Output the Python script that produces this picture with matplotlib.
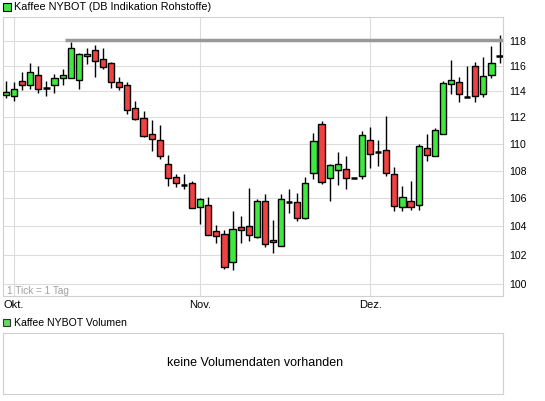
import matplotlib
matplotlib.use("Agg")
import matplotlib.pyplot as plt
from matplotlib.patches import Rectangle
from matplotlib.ticker import FixedLocator, FixedFormatter, NullLocator

plt.rcParams['font.family'] = ['Liberation Sans', 'DejaVu Sans']

# daily OHLC, Kaffee NYBOT
opens = [113.70, 113.67, 114.78, 114.47, 115.25, 114.26, 114.47, 115.06, 115.06, 114.86,
         116.75, 117.23, 116.51, 116.20, 114.70, 114.47, 112.70, 111.94, 110.73, 110.28,
         108.49, 107.54, 106.95, 107.10, 105.37, 105.52, 103.66, 103.45, 101.53, 103.94,
         104.03, 103.24, 105.80, 103.02, 102.64, 105.78, 105.73, 104.62, 107.83, 111.48,
         107.46, 108.10, 108.12, 107.46, 107.60, 110.28, 109.40, 109.53, 107.76, 105.37,
         105.80, 105.52, 109.68, 109.08, 110.73, 114.55, 114.70, 113.57, 115.96, 113.81,
         115.30, 116.75]
highs = [114.81, 114.73, 115.50, 116.22, 115.98, 114.81, 115.35, 115.75, 117.92, 116.99,
         117.42, 117.66, 117.42, 116.28, 115.12, 114.75, 113.24, 112.47, 111.79, 111.40,
         109.15, 107.76, 107.80, 107.26, 106.00, 106.10, 104.10, 103.73, 105.10, 104.74,
         106.73, 105.96, 106.32, 104.46, 106.29, 106.65, 106.37, 107.55, 110.82, 111.73,
         108.51, 109.37, 109.10, 107.46, 110.97, 111.25, 110.30, 112.11, 108.30, 106.90,
         107.26, 109.98, 110.72, 111.20, 114.80, 116.46, 115.16, 115.98, 116.28, 116.70,
         117.60, 118.46]
lows = [113.51, 113.23, 114.13, 114.21, 113.90, 113.62, 113.90, 114.52, 115.06, 114.19,
        116.17, 115.14, 115.77, 114.29, 114.11, 112.29, 111.80, 110.50, 109.50, 108.86,
        106.92, 106.85, 106.66, 105.29, 104.18, 103.38, 102.83, 101.02, 100.95, 102.83,
        102.99, 103.20, 102.55, 102.15, 102.64, 104.98, 104.41, 104.55, 107.40, 107.06,
        105.84, 106.99, 106.71, 107.46, 107.43, 108.25, 108.40, 107.60, 105.12, 105.12,
        105.19, 105.19, 108.77, 109.08, 110.73, 113.78, 113.16, 113.57, 113.16, 113.60,
        115.04, 116.25]
closes = [113.93, 114.16, 114.47, 115.48, 114.16, 114.26, 115.02, 115.25, 117.39, 116.91,
          116.94, 116.35, 115.88, 114.70, 114.32, 112.61, 111.86, 110.58, 110.35, 109.08,
          107.46, 107.10, 106.95, 105.29, 105.96, 103.38, 103.33, 101.18, 103.80, 103.73,
          103.38, 105.80, 102.78, 102.88, 105.94, 105.78, 104.58, 107.10, 110.20, 107.20,
          108.42, 108.49, 107.46, 107.46, 110.65, 109.23, 109.40, 107.84, 105.46, 106.10,
          105.40, 109.83, 109.16, 111.05, 114.63, 114.86, 113.78, 113.57, 113.66, 115.19,
          116.20, 116.75]

month_idx = [1, 24, 45]
month_labels = ["Okt.", "Nov.", "Dez."]
y_ticks = [100, 102, 104, 106, 108, 110, 112, 114, 116, 118]
resistance = 118.05
resistance_start = 7.25

GREEN = '#3ee83e'
RED = '#f04242'
GRID = '#dcdcdc'
FRAME = '#d0d0d0'
W, H = 545, 401

fig = plt.figure(figsize=(W / 100, H / 100), dpi=100)
fig.patch.set_facecolor('white')

# main price panel
ax = fig.add_axes([2.7 / W, 1 - 296 / H, 500.6 / W, 279.5 / H])
ax.set_yscale('log')
ax.set_xlim(-0.4, 61.46)
ax.set_ylim(99.20, 119.96)

n = len(opens)
xs = list(range(n))
ax.vlines(xs, lows, highs, color='black', lw=1.0, zorder=3)
for i in xs:
    o, c = opens[i], closes[i]
    if abs(c - o) < 1e-9:
        ax.hlines(o, i - 0.4, i + 0.4, color='black', lw=1.8, zorder=4)
        continue
    col = GREEN if c > o else RED
    ax.bar(i, abs(c - o), bottom=min(o, c), width=0.76, color=col,
           edgecolor='black', linewidth=1.0, zorder=4)

ax.hlines(resistance, resistance_start, 61.46, color='#999999', lw=2.5, zorder=5)

ax.yaxis.tick_right()
ax.yaxis.set_major_locator(FixedLocator(y_ticks))
ax.yaxis.set_major_formatter(FixedFormatter([str(t) for t in y_ticks]))
ax.yaxis.set_minor_locator(NullLocator())
ax.set_xticks(month_idx)
ax.set_xticklabels(month_labels)
ax.tick_params(axis='both', length=0, colors='black')
ax.tick_params(axis='x', pad=3, labelsize=8)
ax.tick_params(axis='y', pad=4, labelsize=7.6)
ax.grid(True, color=GRID, lw=0.8, zorder=0)
ax.set_axisbelow(True)
for s in ax.spines.values():
    s.set_color(FRAME)
    s.set_linewidth(0.8)

ax.text(4 / 500.6, (296 - 291) / 279.5, "1 Tick = 1 Tag", transform=ax.transAxes,
        fontsize=7.2, color='#a0a0a0', va='center', ha='left')

# volume panel
vax = fig.add_axes([2.7 / W, 1 - 394 / H, 500.6 / W, 61.5 / H])
vax.set_xticks([])
vax.set_yticks([])
for s in vax.spines.values():
    s.set_color(FRAME)
    s.set_linewidth(0.8)
vax.text(0.505, 0.5, "keine Volumendaten vorhanden", transform=vax.transAxes,
         ha='center', va='center', fontsize=9)

# legend entries
fig.patches.append(Rectangle((3.3 / W, 1 - 10.7 / H), 7.2 / W, 7.5 / H,
                             transform=fig.transFigure, facecolor=GREEN,
                             edgecolor='black', lw=0.8))
fig.text(14.5 / W, 1 - 7 / H, "Kaffee NYBOT (DB Indikation Rohstoffe)",
         fontsize=7.8, va='center', ha='left')
fig.patches.append(Rectangle((3.3 / W, 1 - 325.8 / H), 6.8 / W, 6.6 / H,
                             transform=fig.transFigure, facecolor='#66d866',
                             edgecolor='#333333', lw=0.8))
fig.text(14 / W, 1 - 322.5 / H, "Kaffee NYBOT Volumen",
         fontsize=7.6, va='center', ha='left')

fig.savefig("out.png", dpi=100)
